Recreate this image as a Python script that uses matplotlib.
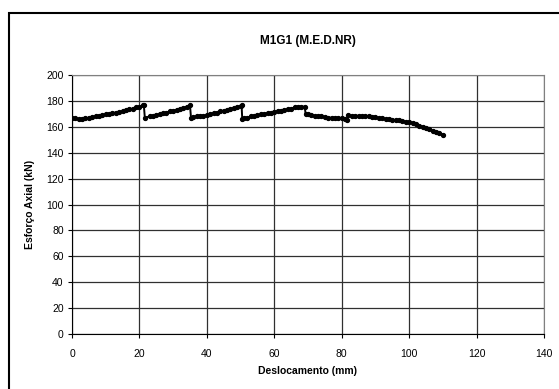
import matplotlib
matplotlib.use("Agg")
import matplotlib.pyplot as plt
from matplotlib.patches import Rectangle

plt.rcParams['font.family'] = ['Liberation Sans', 'DejaVu Sans']

# deslocamento (mm) / esforco axial (kN)
desl = [0, 1, 2, 3, 4, 5, 6, 7, 8, 9, 10, 11, 12, 13, 14, 15, 16, 17, 18, 19, 20, 21, 21.3,
        21.6, 23, 24, 25, 26, 27, 28, 29, 30, 31, 32, 33, 34, 35,
        35.3, 36, 37, 38, 39, 40, 41, 42, 43, 44, 45, 46, 47, 48, 49, 50, 50.3,
        50.5, 51, 52, 53, 54, 55, 56, 57, 58, 59, 60, 61, 62, 63, 64, 65, 66, 67, 68, 69,
        69.3, 70, 71, 72, 73, 74, 75, 76, 77, 78, 79, 80, 81, 81.6,
        82, 83, 84, 85, 86, 87, 88, 89, 90, 91, 92, 93, 94, 95, 96, 97, 98, 99, 100,
        101, 102, 103, 104, 105, 106, 107, 108, 109, 110]
esforco = [167, 166.5, 166, 166, 166.5, 167, 167.5, 168, 168.5, 169, 169.5, 170, 170.5, 171, 171.5,
           172, 173, 173.5, 174, 175, 175.5, 176.5, 177,
           167, 168, 168.5, 169, 170, 170.5, 171, 172, 172.5, 173, 174, 174.5, 175.5, 176.5,
           167, 167.5, 168, 168.5, 168.5, 169, 170, 170.5, 171, 172, 172.5, 173, 174, 174.5,
           175.5, 176, 176.5,
           166, 166.5, 167, 168, 168.5, 169, 169.5, 170, 170.5, 171, 171.5, 172, 172.5, 173,
           173.5, 174, 175, 175.5, 175.5, 175.5,
           170, 169.5, 169, 168.5, 168, 168, 167.5, 167, 167, 167, 167, 166.5, 166, 165.5,
           169, 168.5, 168.5, 168.5, 168, 168, 168, 167.5, 167.5, 167, 166.5, 166, 166, 165.5,
           165, 165, 164.5, 164, 163.5,
           163, 162, 161, 160, 159, 158, 157, 156, 155, 154]

xticks = list(range(0, 141, 20))
yticks = list(range(0, 201, 20))

fig = plt.figure(figsize=(5.59, 3.89), dpi=100)
ax = fig.add_axes([72 / 559, 1 - 334 / 389, 472 / 559, 259 / 389])

ax.plot(desl, esforco, color='black', lw=1.4, marker='o', ms=2.8, zorder=3)

ax.set_xlim(0, 140)
ax.set_ylim(0, 200)
ax.set_xticks(xticks)
ax.set_yticks(yticks)
ax.grid(True, color='#303030', lw=0.9)
ax.tick_params(labelsize=7.5, length=3, width=0.8, direction='out', pad=3)
ax.tick_params(axis='x', pad=8)
for s in ['top', 'right']:
    ax.spines[s].set_color('#808080')
for s in ['left', 'bottom']:
    ax.spines[s].set_color('black')

ax.set_title('M1G1 (M.E.D.NR)', fontsize=8.5, fontweight='bold', pad=22)
ax.set_xlabel('Deslocamento (mm)', fontsize=7.5, fontweight='bold', labelpad=5)
ax.set_ylabel('Esforço Axial (kN)', fontsize=7.5, fontweight='bold', labelpad=8)

# outer chart border
fig.patches.append(Rectangle((9 / 559, -0.05), 1.0, 1 - 13 / 389 + 0.05,
                             transform=fig.transFigure, fill=False,
                             edgecolor='black', lw=1.5))

fig.savefig('out.png', dpi=100)
